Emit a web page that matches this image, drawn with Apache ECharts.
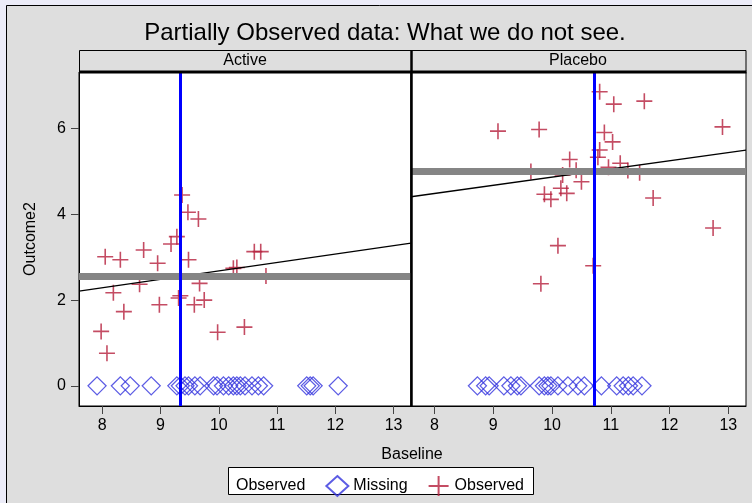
<!DOCTYPE html>
<html><head><meta charset="utf-8">
<script src="https://cdn.jsdelivr.net/npm/echarts@6/dist/echarts.min.js"></script>
<style>html,body{margin:0;padding:0;background:#ececf8}#c{width:752px;height:503px}</style>
</head><body><div id="c"></div>
<script>
const panels = ['Active', 'Placebo'];
const xTicks = [8, 9, 10, 11, 12, 13];
const yTicks = [0, 2, 4, 6];

const activeObsX = [9.37, 9.47, 9.65, 9.28, 9.18, 8.71, 8.05, 8.31, 8.95, 9.48, 10.61, 10.72, 10.25, 10.31, 10.81, 8.64, 8.19, 9.67, 9.34, 9.31, 9.75, 9.58, 8.98, 8.37, 10.44, 9.98, 7.98, 8.08];
const activeObsY = [4.45, 4.05, 3.89, 3.48, 3.31, 3.17, 3.01, 2.94, 2.86, 2.94, 3.13, 3.13, 2.74, 2.76, 2.56, 2.37, 2.17, 2.39, 2.10, 2.05, 2.00, 1.89, 1.89, 1.73, 1.37, 1.25, 1.27, 0.76];
const activeMissX = [7.91, 8.31, 8.48, 8.84, 9.28, 9.34, 9.42, 9.48, 9.59, 9.68, 9.91, 9.97, 10.08, 10.17, 10.25, 10.31, 10.37, 10.45, 10.57, 10.68, 10.77, 11.51, 11.57, 11.62, 12.05];

const placeboObsX = [10.81, 11.05, 11.57, 9.08, 9.78, 12.90, 10.89, 11.03, 10.81, 10.78, 10.30, 10.96, 11.16, 11.29, 11.49, 9.64, 10.18, 10.41, 10.50, 10.15, 10.25, 9.87, 9.98, 11.72, 12.74, 10.10, 10.70, 9.81];
const placeboObsY = [6.86, 6.57, 6.64, 5.94, 5.98, 6.04, 5.91, 5.69, 5.50, 5.33, 5.28, 5.10, 5.19, 5.02, 4.97, 5.00, 4.92, 5.03, 4.76, 4.61, 4.49, 4.47, 4.35, 4.38, 3.68, 3.27, 2.80, 2.38];
const placeboMissX = [8.73, 8.87, 8.93, 9.18, 9.30, 9.41, 9.47, 9.78, 9.87, 9.93, 9.98, 10.10, 10.27, 10.44, 10.55, 10.84, 11.10, 11.21, 11.30, 11.38, 11.53];

const missingOutcome = 0;
const observedMean = [2.56, 5.00];      // grey horizontal band
const missingBaselineMean = [9.34, 10.72]; // blue vertical line
const fitX = [7.6, 13.3];
const fitY = [[2.21, 3.33], [4.41, 5.50]];

const obsX = [activeObsX, placeboObsX];
const obsY = [activeObsY, placeboObsY];
const missX = [activeMissX, placeboMissX];

const FONT = '"Liberation Sans", Arial, sans-serif';
const RED = '#b51f3c', BLUE = '#3333dd';
const PLUS = 'path://M0,8 L16,8 M8,0 L8,16';

const grids = [
  {left: 79, top: 72, width: 332, height: 334},
  {left: 411, top: 72, width: 335, height: 334}
];
const gridOpts = grids.map(g => Object.assign({show: true, backgroundColor: '#fff', borderColor: '#000', borderWidth: 1, containLabel: false}, g));

const xAxes = panels.map((p, i) => ({
  gridIndex: i, type: 'value', min: 7.6, max: 13.3,
  axisLine: {show: true, onZero: false, lineStyle: {color: '#000', width: 1}},
  axisTick: {show: true, length: 8, customValues: xTicks, lineStyle: {color: '#444'}},
  axisLabel: {customValues: xTicks, margin: 12, fontFamily: FONT, fontSize: 16, color: '#000'},
  splitLine: {show: false}
}));
const yAxes = panels.map((p, i) => ({
  gridIndex: i, type: 'value', min: -0.47, max: 7.32,
  name: i === 0 ? 'Outcome2' : '', nameLocation: 'middle', nameGap: 40,
  nameTextStyle: {fontFamily: FONT, fontSize: 16, color: '#000'},
  axisLine: {show: true, onZero: false, lineStyle: {color: '#000', width: 1}},
  axisTick: {show: i === 0, length: 8, customValues: yTicks, lineStyle: {color: '#444'}},
  axisLabel: {show: i === 0, customValues: yTicks, margin: 13, fontFamily: FONT, fontSize: 16, color: '#000'},
  splitLine: {show: false}
}));

const series = [];
panels.forEach((p, i) => {
  series.push({
    name: 'Missing', type: 'scatter', xAxisIndex: i, yAxisIndex: i, z: 2,
    symbol: 'diamond', symbolSize: 18,
    itemStyle: {color: 'rgba(0,0,0,0)', borderColor: BLUE, borderWidth: 1.3},
    data: missX[i].map(x => [x, missingOutcome])
  });
  series.push({
    name: 'Observed', type: 'scatter', xAxisIndex: i, yAxisIndex: i, z: 2,
    symbol: PLUS, symbolSize: 16,
    itemStyle: {color: 'rgba(0,0,0,0)', borderColor: RED, borderWidth: 1.6},
    data: obsX[i].map((x, k) => [x, obsY[i][k]])
  });
  series.push({
    name: 'Observed mean', type: 'scatter', xAxisIndex: i, yAxisIndex: i, z: 3,
    data: [], silent: true,
    markLine: {silent: true, symbol: 'none', label: {show: false}, animation: false,
      lineStyle: {color: '#858585', width: 7, type: 'solid'},
      data: [{yAxis: observedMean[i]}]}
  });
  series.push({
    name: 'fit', type: 'line', xAxisIndex: i, yAxisIndex: i, z: 4,
    symbol: 'none', silent: true, animation: false,
    lineStyle: {color: '#000', width: 1.3},
    data: fitX.map((x, k) => [x, fitY[i][k]]),
    markLine: {silent: true, symbol: 'none', label: {show: false}, animation: false,
      lineStyle: {color: '#0000ff', width: 3, type: 'solid'},
      data: [{xAxis: missingBaselineMean[i]}]}
  });
});

const graphic = [
  {type: 'rect', z: -10, shape: {x: 6.5, y: 5.5, width: 760, height: 520}, style: {fill: '#dedede', stroke: '#000', lineWidth: 1}},
  {type: 'rect', z: 10, shape: {x: 79.5, y: 50.5, width: 332, height: 21}, style: {fill: '#dedede', stroke: '#000', lineWidth: 1}},
  {type: 'rect', z: 10, shape: {x: 411.5, y: 50.5, width: 334.5, height: 21}, style: {fill: '#dedede', stroke: '#000', lineWidth: 1}},
  {type: 'line', z: 11, shape: {x1: 79, y1: 72, x2: 746.5, y2: 72}, style: {stroke: '#000', lineWidth: 3}},
  {type: 'line', z: 11, shape: {x1: 411.5, y1: 50, x2: 411.5, y2: 406}, style: {stroke: '#000', lineWidth: 2.5}},
  {type: 'text', z: 12, style: {text: panels[0], x: 245, y: 61, align: 'center', verticalAlign: 'middle', font: '16px ' + FONT, fill: '#000'}},
  {type: 'text', z: 12, style: {text: panels[1], x: 578, y: 61, align: 'center', verticalAlign: 'middle', font: '16px ' + FONT, fill: '#000'}},
  {type: 'text', z: 12, style: {text: 'Baseline', x: 412, y: 455, align: 'center', verticalAlign: 'middle', font: '16px ' + FONT, fill: '#000'}},
  {type: 'rect', z: 5, shape: {x: 228.5, y: 467.5, width: 305, height: 27}, style: {fill: '#fff', stroke: '#000', lineWidth: 1}}
];

const chart = echarts.init(document.getElementById('c'), null, {renderer: 'canvas'});
chart.setOption({
  animation: false,
  backgroundColor: 'transparent',
  title: {text: 'Partially Observed data: What we do not see.', left: 380, textAlign: 'center', top: 16,
    textStyle: {fontFamily: FONT, fontSize: 24, fontWeight: 'normal', color: '#000'}},
  grid: gridOpts,
  xAxis: xAxes,
  yAxis: yAxes,
  legend: {
    left: 204, top: 470, itemWidth: 22, itemHeight: 20, itemGap: 20,
    textStyle: {fontFamily: FONT, fontSize: 16, color: '#000'},
    formatter: n => n.split(' ')[0],
    data: [{name: 'Observed mean', icon: 'none'}, {name: 'Missing'}, {name: 'Observed'}],
    selectedMode: false, z: 20
  },
  graphic: graphic,
  series: series
});
</script></body></html>
